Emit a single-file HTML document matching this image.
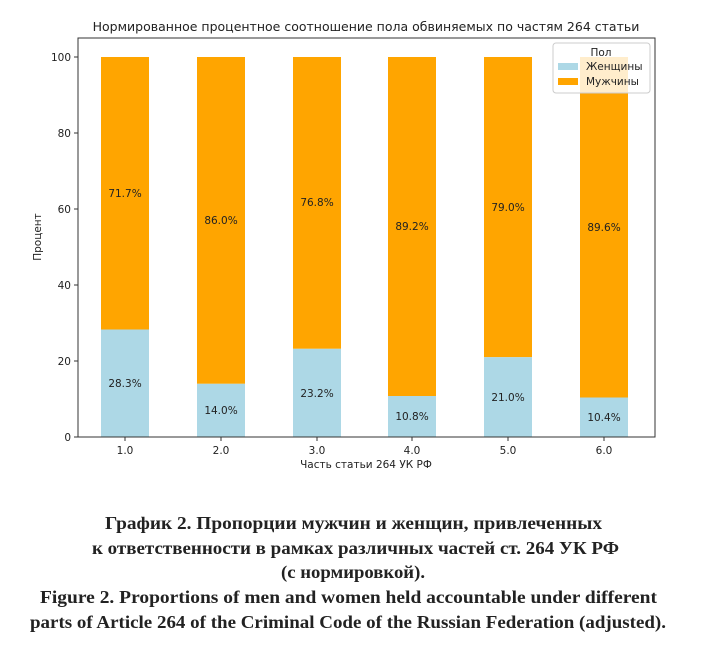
<!DOCTYPE html>
<html><head><meta charset="utf-8"><style>
body{margin:0;background:#fff;}
svg text{font-family:"DejaVu Sans","Liberation Sans",sans-serif;}
svg .cap text{font-family:"Liberation Serif","DejaVu Serif",serif;font-weight:bold;font-size:18px;fill:#222;}
</style></head><body>
<svg width="701" height="660" xmlns="http://www.w3.org/2000/svg">
<rect width="701" height="660" fill="#fff"/>
<text x="366" y="31" font-size="12.5" text-anchor="middle" fill="#222">Нормированное процентное соотношение пола обвиняемых по частям 264 статьи</text>
<g id="bars">
<rect x="101" y="57" width="48" height="272.5" fill="#FFA500"/><rect x="101" y="329.5" width="48" height="107.5" fill="#ADD8E6"/>
<rect x="197" y="57" width="48" height="326.8" fill="#FFA500"/><rect x="197" y="383.8" width="48" height="53.2" fill="#ADD8E6"/>
<rect x="293" y="57" width="48" height="291.8" fill="#FFA500"/><rect x="293" y="348.8" width="48" height="88.2" fill="#ADD8E6"/>
<rect x="388" y="57" width="48" height="339" fill="#FFA500"/><rect x="388" y="396" width="48" height="41" fill="#ADD8E6"/>
<rect x="484" y="57" width="48" height="300.2" fill="#FFA500"/><rect x="484" y="357.2" width="48" height="79.8" fill="#ADD8E6"/>
<rect x="580" y="57" width="48" height="340.5" fill="#FFA500"/><rect x="580" y="397.5" width="48" height="39.5" fill="#ADD8E6"/>
</g>
<g font-size="10.5" fill="#222" text-anchor="middle">
<text x="125" y="197">71.7%</text><text x="125" y="387">28.3%</text>
<text x="221" y="224">86.0%</text><text x="221" y="414">14.0%</text>
<text x="317" y="206">76.8%</text><text x="317" y="397">23.2%</text>
<text x="412" y="230">89.2%</text><text x="412" y="420">10.8%</text>
<text x="508" y="211">79.0%</text><text x="508" y="401">21.0%</text>
<text x="604" y="231">89.6%</text><text x="604" y="421">10.4%</text>
</g>
<rect x="78" y="38" width="577" height="399" fill="none" stroke="#333" stroke-width="1"/>
<g stroke="#333">
<line x1="74" y1="437" x2="78" y2="437"/><line x1="74" y1="361" x2="78" y2="361"/><line x1="74" y1="285" x2="78" y2="285"/><line x1="74" y1="209" x2="78" y2="209"/><line x1="74" y1="133" x2="78" y2="133"/><line x1="74" y1="57" x2="78" y2="57"/>
<line x1="125" y1="437" x2="125" y2="441"/><line x1="221" y1="437" x2="221" y2="441"/><line x1="317" y1="437" x2="317" y2="441"/><line x1="412" y1="437" x2="412" y2="441"/><line x1="508" y1="437" x2="508" y2="441"/><line x1="604" y1="437" x2="604" y2="441"/>
</g>
<g font-size="10.5" fill="#222" text-anchor="end">
<text x="71" y="441">0</text><text x="71" y="365">20</text><text x="71" y="289">40</text><text x="71" y="213">60</text><text x="71" y="137">80</text><text x="71" y="61">100</text>
</g>
<g font-size="10.5" fill="#222" text-anchor="middle">
<text x="125" y="454">1.0</text><text x="221" y="454">2.0</text><text x="317" y="454">3.0</text><text x="412" y="454">4.0</text><text x="508" y="454">5.0</text><text x="604" y="454">6.0</text>
<text x="366" y="468">Часть статьи 264 УК РФ</text>
</g>
<text x="41" y="237" font-size="10.5" fill="#222" text-anchor="middle" transform="rotate(-90 41 237)">Процент</text>
<rect x="553" y="43" width="97" height="50" rx="3" fill="#fff" fill-opacity="0.8" stroke="#ccc"/>
<text x="601" y="56" font-size="10.5" fill="#222" text-anchor="middle">Пол</text>
<rect x="558" y="63" width="20" height="7" fill="#ADD8E6"/><text x="586" y="70" font-size="10.5" fill="#222">Женщины</text>
<rect x="558" y="78" width="20" height="7" fill="#FFA500"/><text x="586" y="85" font-size="10.5" fill="#222">Мужчины</text>
<g class="cap">
<text x="105" y="529" textLength="497" lengthAdjust="spacingAndGlyphs">График 2. Пропорции мужчин и женщин, привлеченных</text>
<text x="92" y="554" textLength="527" lengthAdjust="spacingAndGlyphs">к ответственности в рамках различных частей ст. 264 УК РФ</text>
<text x="281" y="578" textLength="144" lengthAdjust="spacingAndGlyphs">(с нормировкой).</text>
<text x="40" y="603" textLength="617" lengthAdjust="spacingAndGlyphs">Figure 2. Proportions of men and women held accountable under different</text>
<text x="30" y="628" textLength="636" lengthAdjust="spacingAndGlyphs">parts of Article 264 of the Criminal Code of the Russian Federation (adjusted).</text>
</g>
</svg>
</body></html>
